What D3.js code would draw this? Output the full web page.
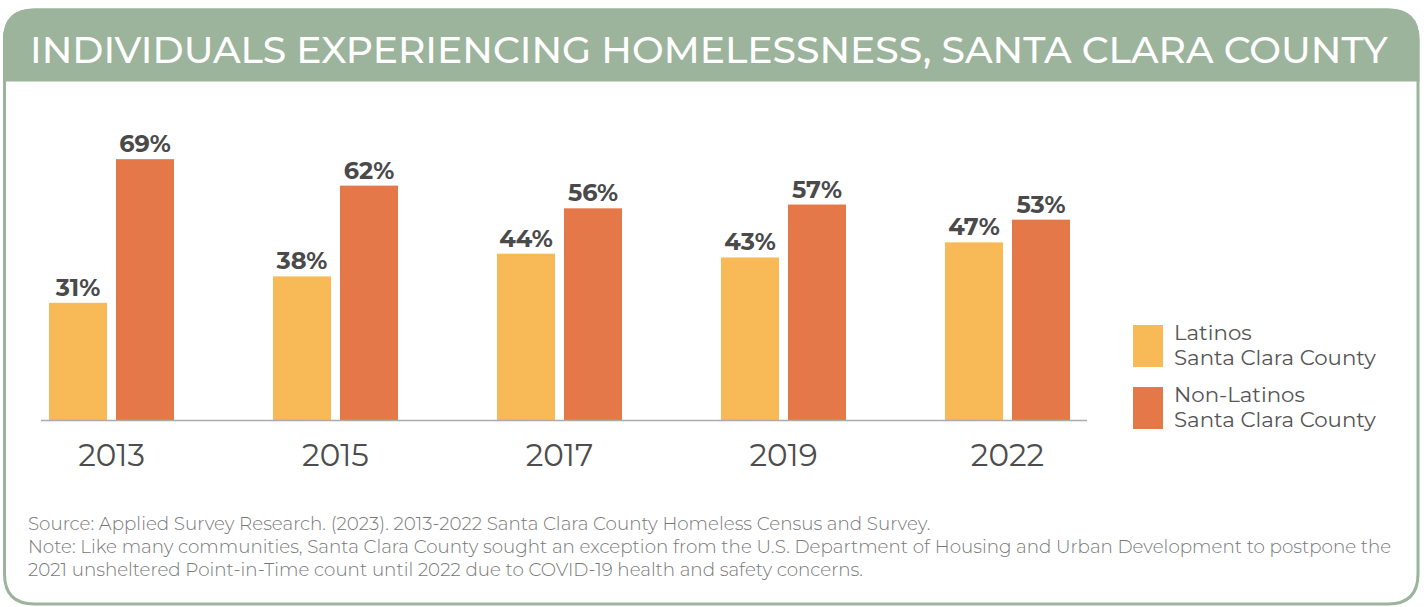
<!DOCTYPE html>
<html><head><meta charset="utf-8">
<script src="https://cdn.jsdelivr.net/npm/d3@7"></script>
<style>
html,body{margin:0;padding:0;background:#fff;}
svg{display:block;}
</style></head>
<body>
<svg id="chart" width="1424" height="607"></svg>
<script>
const years = ["2013","2015","2017","2019","2022"];
const latinos = [31, 38, 44, 43, 47];
const nonLatinos = [69, 62, 56, 57, 53];
const seriesNames = ["Latinos", "Non-Latinos"];
const legendLines = [["Latinos","Santa Clara County"],["Non-Latinos","Santa Clara County"]];
const colors = ["#F7BA57", "#E57848"];
const title = "INDIVIDUALS EXPERIENCING HOMELESSNESS, SANTA CLARA COUNTY";
const notes = [
  "Source: Applied Survey Research. (2023). 2013-2022 Santa Clara County Homeless Census and Survey.",
  "Note: Like many communities, Santa Clara County sought an exception from the U.S. Department of Housing and Urban Development to postpone the",
  "2021 unsheltered Point-in-Time count until 2022 due to COVID-19 health and safety concerns."
];

const svg = d3.select("#chart");
const green = "#9CB39C";
const font = "Montserrat, 'Open Sans', 'Noto Sans', sans-serif";

// frame
const L = 4.5, R = 1418, T = 10, B = 604, r = 30;
svg.append("path")
  .attr("d", `M${L},${T+r} Q${L},${T} ${L+r},${T} L${R-r},${T} Q${R},${T} ${R},${T+r} L${R},${B-r} Q${R},${B} ${R-r},${B} L${L+r},${B} Q${L},${B} ${L},${B-r} Z`)
  .attr("fill", "#fff").attr("stroke", green).attr("stroke-width", 3);
svg.append("path")
  .attr("d", `M${L},${T+r} Q${L},${T} ${L+r},${T} L${R-r},${T} Q${R},${T} ${R},${T+r} L${R},80 L${L},80 Z`)
  .attr("fill", green).attr("stroke", green).attr("stroke-width", 3);

function fit(sel, w) {
  const n = sel.node();
  const len = n.getComputedTextLength();
  const fs = parseFloat(sel.attr("font-size"));
  const nf = fs * w / len;
  sel.attr("font-size", nf);
  return nf;
}

const t = svg.append("text").attr("x", 30).attr("y", 63)
  .attr("font-family", font).attr("font-size", 34).attr("font-weight", 500)
  .attr("fill", "#fff").text(title);
fit(t, 1358);

// scales
const step = 224;
const x0 = d3.scaleBand().domain(years)
  .range([111.5 - step/2, 1007.5 + step/2]).paddingInner(0).paddingOuter(0);
const bandW = 125;
const x1 = d3.scaleBand().domain(seriesNames).range([0, bandW]).paddingInner(9/67);
const y = d3.scaleLinear().domain([0, 100]).range([420, 42]);

const data = years.map((yr, i) => ({year: yr, vals: [latinos[i], nonLatinos[i]]}));
const g = svg.append("g");
const groups = g.selectAll("g.grp").data(data).join("g")
  .attr("transform", d => `translate(${x0(d.year) + x0.bandwidth()/2 - bandW/2},0)`);
groups.selectAll("rect").data(d => d.vals.map((v, j) => ({v, j}))).join("rect")
  .attr("x", d => x1(seriesNames[d.j]))
  .attr("width", x1.bandwidth())
  .attr("y", d => y(d.v))
  .attr("height", d => y(0) - y(d.v))
  .attr("fill", d => colors[d.j]);
groups.selectAll("text.val").data(d => d.vals.map((v, j) => ({v, j}))).join("text")
  .attr("class", "val")
  .attr("x", d => x1(seriesNames[d.j]) + x1.bandwidth()/2)
  .attr("y", d => y(d.v) - 7)
  .attr("text-anchor", "middle")
  .attr("font-family", font).attr("font-weight", 700).attr("font-size", 24)
  .attr("fill", "#4a4a4a")
  .text(d => d.v + "%");

// x axis
const ax = svg.append("g").attr("transform", `translate(0,${y(0)})`)
  .call(d3.axisBottom(x0).tickSize(0).tickPadding(24).tickSizeOuter(0));
ax.select(".domain").attr("stroke", "#aaa").attr("stroke-width", 1.5)
  .attr("d", `M41,0.5H1087`);
ax.selectAll("text").attr("font-family", font).attr("font-size", 31)
  .attr("fill", "#4d4d4d");

// legend
const lg = svg.append("g");
legendLines.forEach((lines, i) => {
  const yy = 325 + i * 62;
  lg.append("rect").attr("x", 1133).attr("y", yy).attr("width", 30).attr("height", 42).attr("fill", colors[i]);
  lines.forEach((ln, k) => {
    lg.append("text").attr("x", 1174).attr("y", yy + 15 + k * 25)
      .attr("font-family", font).attr("font-size", 21.3).attr("fill", "#555").text(ln);
  });
});

// notes
const nt = notes.map((n, i) => svg.append("text").attr("x", 28).attr("y", 530 + i * 23)
    .attr("font-family", font).attr("font-size", 17).attr("font-weight", 300)
    .attr("fill", "#777").text(n));
const nf = fit(nt[1], 1364);
nt.forEach(s => s.attr("font-size", nf));
</script>
</body></html>
